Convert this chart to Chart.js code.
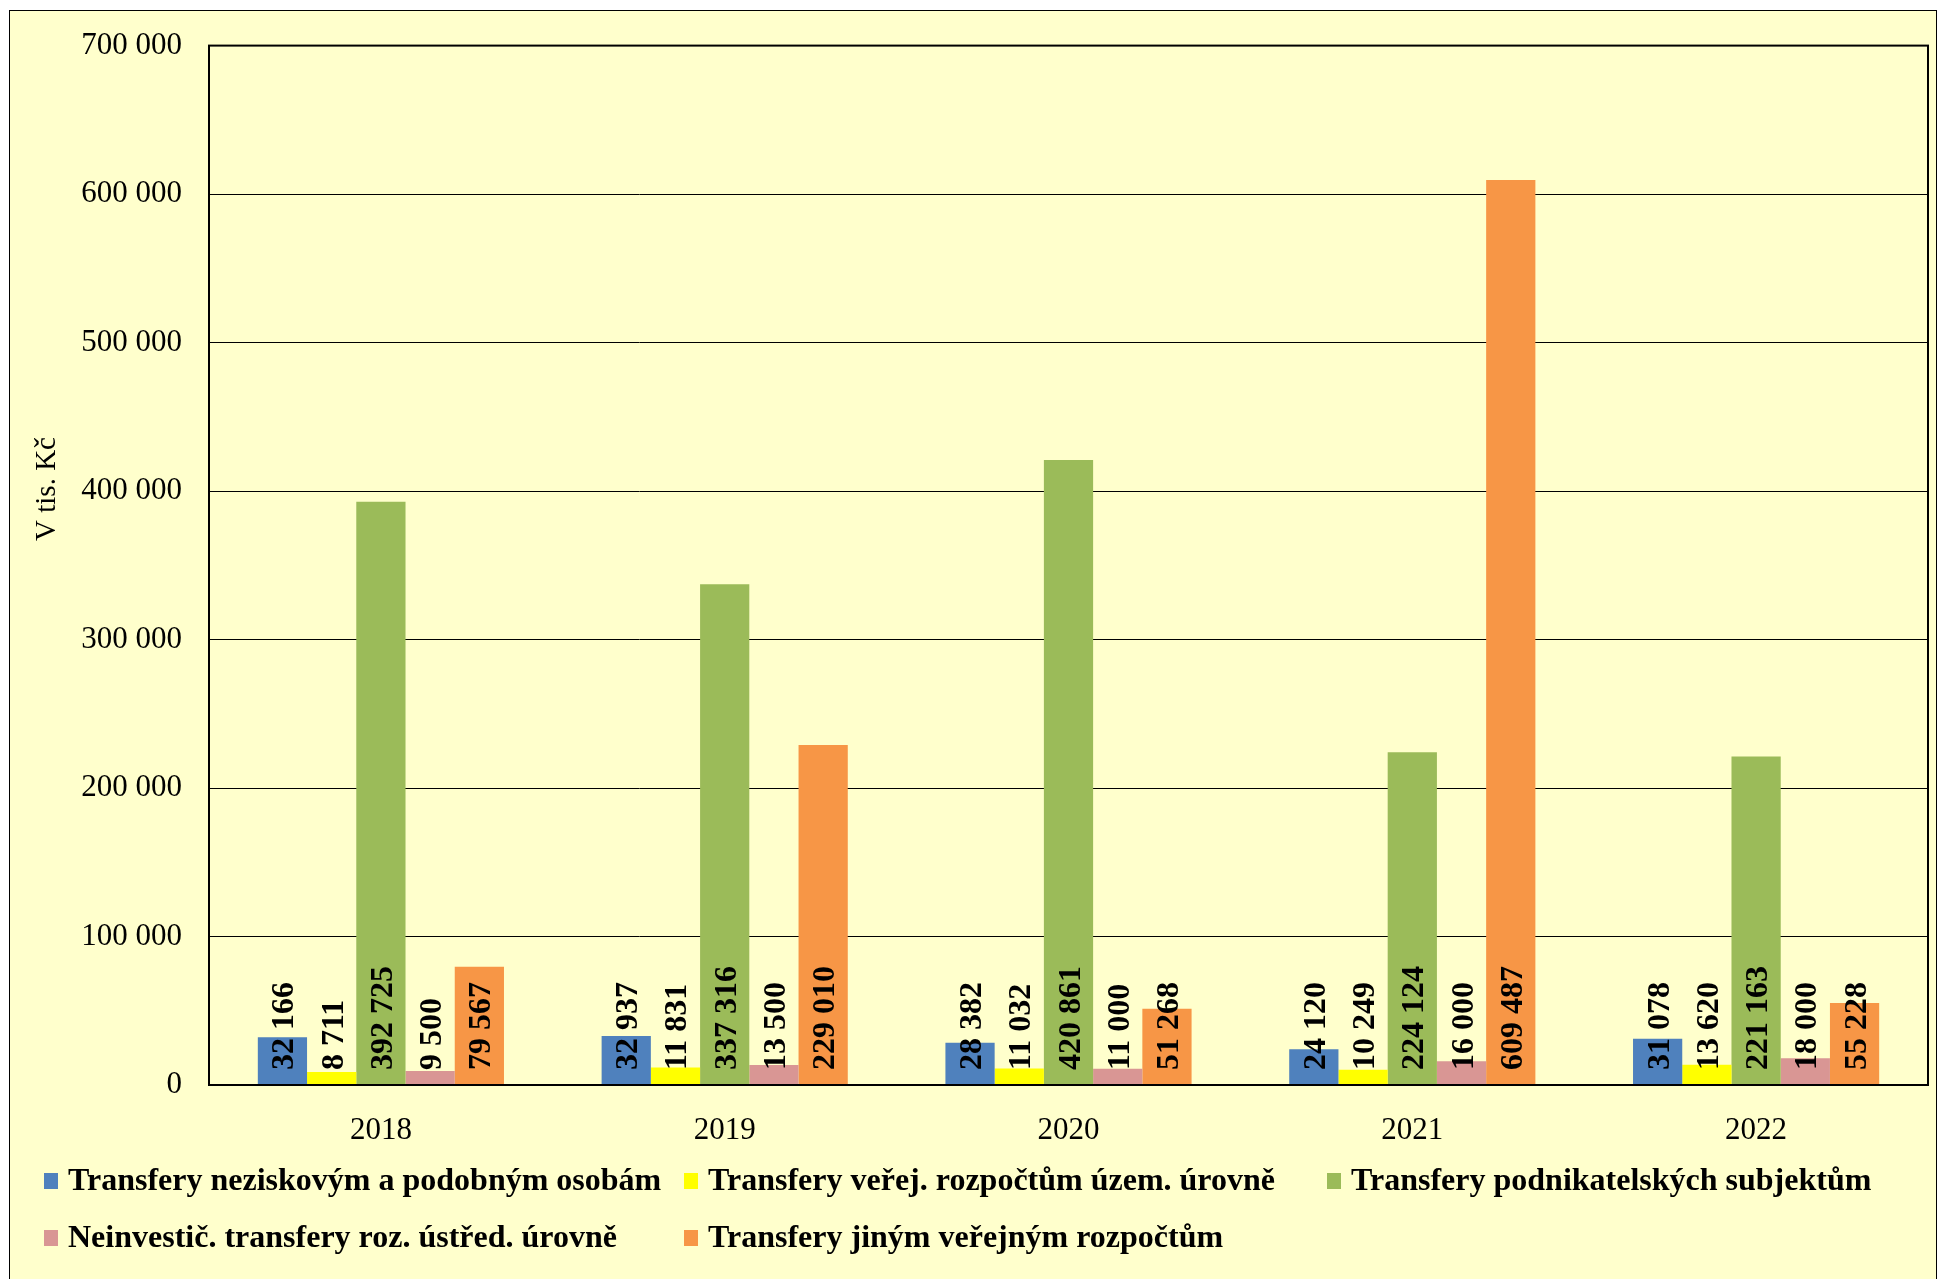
<!DOCTYPE html>
<html>
<head>
<meta charset="utf-8">
<script src="https://cdn.jsdelivr.net/npm/chart.js@4.4.0/dist/chart.umd.min.js"></script>
<style>
    html, body { margin: 0; padding: 0; background: #ffffff; overflow: hidden; }
    #frame { position: absolute; left: 9px; top: 10px; width: 1926px; height: 1300px; background: #ffffcc; border: 1px solid #000; }
    #wrap { position: absolute; left: 0; top: 0; width: 1940px; height: 1279px; }
</style>
</head>
<body>
<div id="frame"></div>
<div id="wrap"><canvas id="transferChart" width="1940" height="1279"></canvas></div>
<script>
// data
var categories = ['2018', '2019', '2020', '2021', '2022'];
var neziskove = [32166, 32937, 28382, 24120, 31078];
var uzemni = [8711, 11831, 11032, 10249, 13620];
var podnikatelske = [392725, 337316, 420861, 224124, 221163];
var ustredni = [9500, 13500, 11000, 16000, 18000];
var jine = [79567, 229010, 51268, 609487, 55228];
var seriesNames = [
    'Transfery neziskovým a podobným osobám',
    'Transfery veřej. rozpočtům územ. úrovně',
    'Transfery podnikatelských subjektům',
    'Neinvestič. transfery roz. ústřed. úrovně',
    'Transfery jiným veřejným rozpočtům'
];
var seriesColors = ['#4f81bd', '#ffff00', '#9bbb59', '#d99694', '#f79646'];
var yMax = 700000;
var yStep = 100000;
var yTitle = 'V tis. Kč';

var serif = '"Liberation Serif", "Times New Roman", serif';

function fmt(v) {
    return String(v).replace(/\B(?=(\d{3})+(?!\d))/g, ' ');
}

var values = [neziskove, uzemni, podnikatelske, ustredni, jine];
var datasets = values.map(function(arr, i) {
    return {
        label: seriesNames[i],
        data: arr,
        backgroundColor: seriesColors[i],
        borderWidth: 0,
        barPercentage: 1,
        categoryPercentage: 0.716
    };
});

// labels on bars, plot frame, axis title and legend
var extras = {
    id: 'extras',
    afterDatasetsDraw: function(chart) {
        var ctx = chart.ctx;
        var base = chart.scales.y.getPixelForValue(0);
        ctx.save();
        ctx.fillStyle = '#000';
        ctx.font = 'bold 32px ' + serif;
        ctx.textAlign = 'left';
        ctx.textBaseline = 'alphabetic';
        chart.data.datasets.forEach(function(ds, di) {
            chart.getDatasetMeta(di).data.forEach(function(bar, i) {
                ctx.save();
                ctx.translate(bar.x + 11, base - 15);
                ctx.rotate(-Math.PI / 2);
                ctx.fillText(fmt(ds.data[i]), 0, 0);
                ctx.restore();
            });
        });
        ctx.restore();
    },
    afterDraw: function(chart) {
        var ctx = chart.ctx;
        var a = chart.chartArea;
        ctx.save();
        ctx.strokeStyle = '#000';
        ctx.lineWidth = 2;
        ctx.strokeRect(a.left, a.top, a.right - a.left, a.bottom - a.top);

        // y title
        ctx.fillStyle = '#000';
        ctx.font = '29px ' + serif;
        ctx.textAlign = 'center';
        ctx.textBaseline = 'middle';
        ctx.translate(47, 489);
        ctx.rotate(-Math.PI / 2);
        ctx.fillText(yTitle, 0, 0);
        ctx.restore();

        // legend
        var cols = [44, 684, 1327];
        var rows = [1181, 1238];
        ctx.save();
        ctx.font = 'bold 32px ' + serif;
        ctx.textAlign = 'left';
        ctx.textBaseline = 'middle';
        chart.data.datasets.forEach(function(ds, i) {
            var x = cols[i % 3];
            var y = rows[Math.floor(i / 3)];
            ctx.fillStyle = ds.backgroundColor;
            ctx.fillRect(x, y - 8, 14, 16);
            ctx.fillStyle = '#000';
            ctx.fillText(ds.label, x + 24, y + 1);
        });
        ctx.restore();
    }
};

var ctx = document.getElementById('transferChart').getContext('2d');
var transferChart = new Chart(ctx, {
    type: 'bar',
    data: {
        labels: categories,
        datasets: datasets
    },
    options: {
        responsive: false,
        animation: false,
        layout: {
            padding: { left: 0, top: 43, right: 12, bottom: 0 }
        },
        plugins: {
            legend: { display: false },
            tooltip: { enabled: false }
        },
        scales: {
            x: {
                grid: { display: false },
                border: { display: true, color: '#000', width: 2 },
                ticks: {
                    color: '#000',
                    font: { family: serif, size: 31 },
                    padding: 19
                },
                afterFit: function(scale) { scale.height = 194; }
            },
            y: {
                min: 0,
                max: yMax,
                grid: { color: '#000', lineWidth: 1, drawTicks: false },
                border: { display: true, color: '#000', width: 2 },
                ticks: {
                    stepSize: yStep,
                    color: '#000',
                    font: { family: serif, size: 31 },
                    padding: 27,
                    callback: function(v) { return fmt(v); }
                },
                afterFit: function(scale) { scale.width = 209; }
            }
        }
    },
    plugins: [extras]
});
</script>
</body>
</html>
